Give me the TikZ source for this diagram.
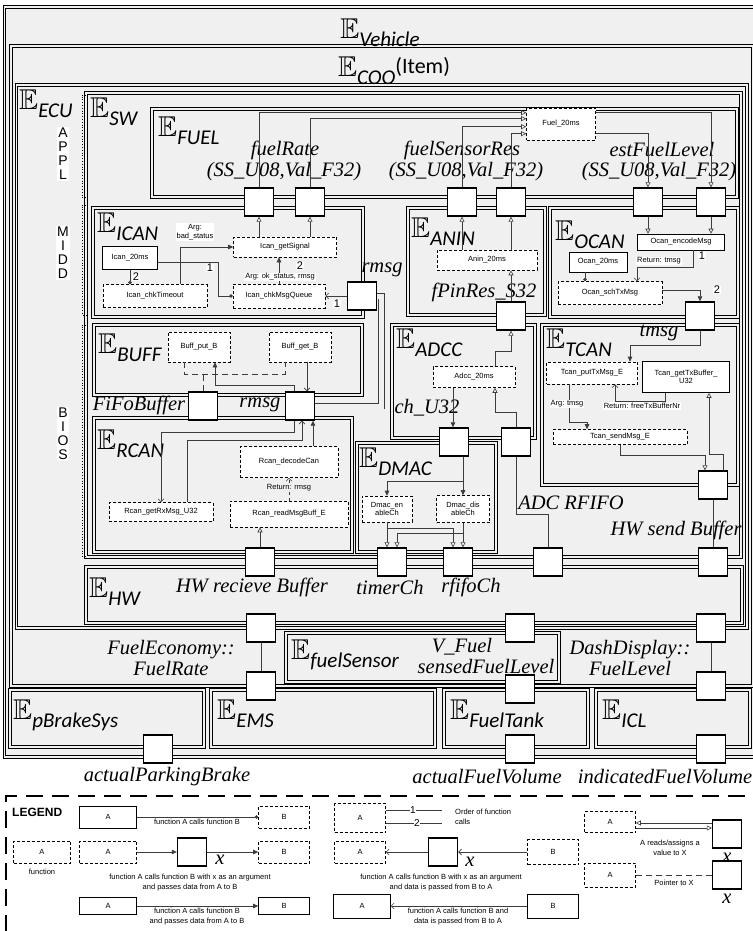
\documentclass[tikz,border=0pt]{standalone}
\usepackage{fontspec}
\usepackage{amssymb}
\usepackage{graphicx}
\setmainfont{Liberation Serif}
\setsansfont{Liberation Sans}
\newfontfamily\subsans{Carlito}
\usetikzlibrary{positioning,arrows.meta,fit}

\definecolor{boxgray}{RGB}{240,240,240}
\definecolor{linegray}{RGB}{60,60,60}

\newcommand{\bbE}{\scalebox{1.15}{\fontsize{24.88}{25}\selectfont$\mathbb{E}$}}
\newcommand{\entsub}[1]{\raisebox{-8pt}{\fontsize{21}{21}\selectfont\subsans\itshape #1}}
\newcommand{\ent}[1]{\bbE\entsub{#1}}
\newcommand{\fnfont}{\fontsize{7.5}{8.5}\selectfont\sffamily}
\newcommand{\legfont}{\fontsize{7.5}{10}\selectfont\sffamily}
\newcommand{\lblfont}{\fontsize{20.5}{21}\selectfont\itshape}
\newcommand{\numfont}{\fontsize{11}{11}\selectfont\sffamily}
\newcommand{\sidefont}{\fontsize{14}{14}\selectfont\sffamily}

\begin{document}
\begin{tikzpicture}[x=1pt, y=-1pt,
    ent/.style={draw, fill=boxgray, line width=0.9pt, double=boxgray, double distance=1.3pt, inner sep=0pt},
    entlbl/.style={anchor=north west, inner sep=0pt},
    fn/.style={draw, dashed, dash pattern=on 3pt off 2pt, fill=white, line width=0.6pt, font=\fnfont, align=center, inner sep=1pt},
    fnsolid/.style={fn, solid},
    port/.style={draw, fill=white, line width=1.4pt, minimum width=29pt, minimum height=28pt, inner sep=0pt},
    ilabel/.style={font=\lblfont, inner sep=0pt, align=center},
    note/.style={font=\fnfont, fill=white, inner sep=1pt, align=center},
    num/.style={font=\numfont, fill=white, inner sep=0.5pt},
    side/.style={font=\sidefont, fill=white, inner sep=1pt, align=center},
    legtext/.style={font=\legfont, inner sep=0pt, align=center},
    xlbl/.style={font=\lblfont, inner sep=0pt},
    legbox/.style={draw, line width=2.4pt, dash pattern=on 17pt off 9pt, inner sep=0pt},
    conn/.style={draw=linegray, line width=0.6pt},
    call/.style={conn, -{Circle[length=3.5pt]}},
    callarg/.style={conn, -{Triangle[length=5pt,width=4.5pt]}},
    ret/.style={conn, -{Straight Barb[length=3pt,width=6pt]}},
    rw/.style={conn, -{Triangle[open,length=5pt,width=5pt]}},
    ptr/.style={conn, dash pattern=on 6pt off 4pt},
    pipe/.style={draw=linegray, line width=0.8pt, double=boxgray, double distance=5pt},
  ]
  \useasboundingbox (0,0) rectangle (752,931);

  % nested entities
  \node[ent, fit={(4.5,7) (758,757)}] (vehicle) {};
  \node[ent, fit={(11,46) (753,686)}] (coo) {};
  \node[ent, fit={(16.5,85) (747,628)}] (ecu) {};
  \node[ent, fit={(86,93) (741,557)}] (sw) {};
  \node[ent, fit={(152,109) (737,197)}] (fuel) {};
  \node[ent, fit={(93,208) (363,317)}] (ican) {};
  \node[ent, fit={(408,208) (545,315)}] (anin) {};
  \node[ent, fit={(550,208) (738,317)}] (ocan) {};
  \node[ent, fit={(94,325) (362,395)}] (buff) {};
  \node[ent, fit={(94,418) (352,552)}] (rcan) {};
  \node[ent, fit={(392,325) (535,438)}] (adcc) {};
  \node[ent, fit={(357,443) (496,552)}] (dmac) {};
  \node[ent, fit={(542,325) (738,485)}] (tcan) {};
  \node[ent, fit={(86,567) (742,623)}] (hw) {};
  \node[ent, fit={(286,633) (559,682)}] (fuelsensor) {};
  \node[ent, fit={(10,690) (204,747)}] (pbrake) {};
  \node[ent, fit={(211,690) (435,747)}] (ems) {};
  \node[ent, fit={(444,690) (588,747)}] (fueltank) {};
  \node[ent, fit={(596,690) (750,747)}] (icl) {};

  % entity names
  \node[entlbl, anchor=north] (vehiclelbl) at (380,19) {\ent{Vehicle}};
  \node[entlbl, anchor=north] (coolbl) at (394,57) {\ent{COO}\raisebox{3pt}{\fontsize{22}{22}\selectfont\subsans (Item)}};
  \node[entlbl] (eculbl) at (19,90) {\ent{ECU}};
  \node[entlbl] (swlbl) at (90,98) {\ent{SW}};
  \node[entlbl] (fuellbl) at (158,117) {\ent{FUEL}};
  \node[entlbl] (icanlbl) at (97,213) {\ent{ICAN}};
  \node[entlbl] (aninlbl) at (411,218) {\ent{ANIN}};
  \node[entlbl] (ocanlbl) at (555,221) {\ent{OCAN}};
  \node[entlbl] (bufflbl) at (98,334) {\ent{BUFF}};
  \node[entlbl] (rcanlbl) at (97,430) {\ent{RCAN}};
  \node[entlbl] (adcclbl) at (396,329) {\ent{ADCC}};
  \node[entlbl] (dmaclbl) at (359,448) {\ent{DMAC}};
  \node[entlbl] (tcanlbl) at (546,329) {\ent{TCAN}};
  \node[entlbl] (hwlbl) at (89,578) {\ent{HW}};
  \node[entlbl] (fuelsensorlbl) at (291,640) {\ent{fuelSensor}};
  \node[entlbl] (pbrakelbl) at (13,700) {\ent{pBrakeSys}};
  \node[entlbl] (emslbl) at (217,700) {\ent{EMS}};
  \node[entlbl] (fueltanklbl) at (450,700) {\ent{FuelTank}};
  \node[entlbl] (icllbl) at (602,700) {\ent{ICL}};

  % software layers
  \node[side] (appl) at (63,154) {A\\P\\P\\L};
  \node[side] (midd) at (63,253) {M\\I\\D\\D};
  \node[side] (bios) at (63,434) {B\\I\\O\\S};
  \draw[dotted, line width=0.8pt] (86,95) -- (82,95) -- (82,197) -- (86,197);
  \draw[dotted, line width=0.8pt] (86,205) -- (82,205) -- (82,315) -- (86,315);
  \draw[dotted, line width=0.8pt] (86,325) -- (82,325) -- (82,556) -- (86,556);

  % signal names
  \node[ilabel] (fuelratelbl) at (285,150) {fuelRate};
  \node[ilabel] (fuelrateval) at (284,172) {(SS\_U08,Val\_F32)};
  \node[ilabel] (sensorreslbl) at (462,150) {fuelSensorRes};
  \node[ilabel] (sensorresval) at (466,172) {(SS\_U08,Val\_F32)};
  \node[ilabel] (estlevellbl) at (662,150) {estFuelLevel};
  \node[ilabel] (estlevelval) at (659,172) {(SS\_U08,Val\_F32)};
  \node[ilabel] (icanrmsglbl) at (382,270) {rmsg};
  \node[ilabel] (fpinlbl) at (484,292) {fPinRes\_S32};
  \node[ilabel] (fifolbl) at (139,405) {FiFoBuffer};
  \node[ilabel] (buffrmsglbl) at (260,405) {rmsg};
  \node[ilabel] (chlbl) at (427,408) {ch\_U32};
  \node[ilabel] (tmsglbl) at (659,333) {tmsg};
  \node[ilabel] (adclbl) at (571,503) {ADC RFIFO};
  \node[ilabel] (hwsendlbl) at (676,530) {HW send Buffer};
  \node[ilabel] (hwrecvlbl) at (252,587) {HW recieve Buffer};
  \node[ilabel] (timerlbl) at (390,587) {timerCh};
  \node[ilabel] (rfifolbl) at (471,587) {rfifoCh};
  \node[ilabel] (econlbl) at (171,658) {FuelEconomy::\\FuelRate};
  \node[ilabel] (vfuellbl) at (462,647) {V\_Fuel};
  \node[ilabel] (sensedlbl) at (486,667) {sensedFuelLevel};
  \node[ilabel] (dashlbl) at (630,658) {DashDisplay::\\FuelLevel};
  \node[ilabel] (parklbl) at (167,777) {actualParkingBrake};
  \node[ilabel] (fvollbl) at (487,777) {actualFuelVolume};
  \node[ilabel] (indiclbl) at (665,777) {indicatedFuelVolume};

  % functions
  \node[fn, minimum width=69, minimum height=32] (fuel20) at (561,124) {Fuel\_20ms};
  \node[fn, minimum width=103, minimum height=20] (icanget) at (285,247) {Ican\_getSignal};
  \node[fnsolid, minimum width=55, minimum height=23] (ican20) at (130,258) {Ican\_20ms};
  \node[fn, minimum width=104, minimum height=23] (icanto) at (155,296) {Ican\_chkTimeout};
  \node[fn, minimum width=92, minimum height=24] (icanq) at (279,296) {Ican\_chkMsgQueue};
  \node[fn, minimum width=100, minimum height=20] (anin20) at (487,260) {Anin\_20ms};
  \node[fnsolid, minimum width=87, minimum height=16] (ocanenc) at (681,242) {Ocan\_encodeMsg};
  \node[fnsolid, minimum width=58, minimum height=20] (ocan20) at (598,262) {Ocan\_20ms};
  \node[fn, minimum width=104, minimum height=23] (ocansch) at (610,293) {Ocan\_schTxMsg};
  \node[fn, minimum width=62, minimum height=30] (buffput) at (199,347) {Buff\_put\_B};
  \node[fn, minimum width=62, minimum height=30] (buffget) at (300,347) {Buff\_get\_B};
  \node[fn, minimum width=98, minimum height=31] (rcandec) at (289,462) {Rcan\_decodeCan};
  \node[fn, minimum width=104, minimum height=19] (rcanget) at (161,512) {Rcan\_getRxMsg\_U32};
  \node[fn, minimum width=118, minimum height=26] (rcanread) at (289,514) {Rcan\_readMsgBuff\_E};
  \node[fn, minimum width=82, minimum height=21] (adcc20) at (474,377) {Adcc\_20ms};
  \node[fn, minimum width=50, minimum height=26] (dmacen) at (387,509) {Dmac\_en\\ableCh};
  \node[fn, minimum width=53, minimum height=27] (dmacdis) at (463,509) {Dmac\_dis\\ableCh};
  \node[fn, minimum width=91, minimum height=22] (tcanput) at (592,373) {Tcan\_putTxMsg\_E};
  \node[fnsolid, minimum width=87, minimum height=31] (tcangetb) at (686,377) {Tcan\_getTxBuffer\_\\U32};
  \node[fn, minimum width=134, minimum height=15] (tcansend) at (620,437) {Tcan\_sendMsg\_E};

  % ports
  \node[port] (pfr1) at (259,202) {};
  \node[port] (pfr2) at (310,202) {};
  \node[port] (psr1) at (462,202) {};
  \node[port] (psr2) at (511,202) {};
  \node[port] (pel1) at (648,202) {};
  \node[port] (pel2) at (711,202) {};
  \node[port] (picanrmsg) at (362,296) {};
  \node[port] (pfpin) at (511,316) {};
  \node[port] (ptmsg) at (700,316) {};
  \node[port] (pfifo) at (203,406) {};
  \node[port] (pbuffrmsg) at (300,406) {};
  \node[port] (pch) at (454,442) {};
  \node[port] (padc) at (516,442) {};
  \node[port] (phwsend) at (713,485) {};
  \node[port] (phwrecv) at (260,562) {};
  \node[port] (ptimer) at (392,562) {};
  \node[port] (prfifo) at (458,562) {};
  \node[port] (padcbot) at (548,562) {};
  \node[port] (phwsendbot) at (713,562) {};
  \node[port] (pfuelrate) at (261,628) {};
  \node[port] (pvfuel) at (520,628) {};
  \node[port] (pfuellevel) at (711,628) {};
  \node[port] (pems) at (261,686) {};
  \node[port] (pfueltank) at (520,689) {};
  \node[port] (picl) at (711,686) {};
  \node[port] (ppark) at (158,749) {};
  \node[port] (pfuelvol) at (520,749) {};
  \node[port] (pindic) at (711,749) {};

  % FUEL
  \draw[rw] (pfr1.north) |- ([yshift=-5pt]fuel20.north west);
  \draw[rw] (pfr2.north) |- ([yshift=-11pt]fuel20.north west);
  \draw[rw] (psr1.north) |- ([yshift=-19pt]fuel20.north west);
  \draw[rw] (psr2.north) |- ([yshift=-26pt]fuel20.north west);
  \draw[rw] ([yshift=-5pt]fuel20.north east) -| (pel2.north);
  \draw[rw] ([yshift=-26pt]fuel20.north east) -| (pel1.north);

  % ICAN
  \draw[rw] (icanget.north -| pfr1.south) -- (pfr1.south);
  \draw[rw] (icanget.north -| pfr2.south) -- (pfr2.south);
  \draw[call] (ican20.south) -- (icanto.north -| ican20.south);
  \draw[call] ([yshift=-4pt]ican20.east) -- ++(60,0) |- (icanq.west);
  \draw[callarg] ([xshift=25pt]icanto.north) |- (icanget.west);
  \draw[callarg] (icanq.north) -- (icanq.north |- icanget.south);
  \draw[ret] (picanrmsg.west) -- (icanq.east);
  \draw[pipe] (picanrmsg.east) -- ++(4,0) |- (pbuffrmsg.east);

  % ANIN
  \draw[rw] (anin20.north -| psr1.south) -- (psr1.south);
  \draw[rw] (anin20.north -| psr2.south) -- (psr2.south);
  \draw[rw] (pfpin.north) -- (pfpin.north |- anin20.south);

  % OCAN
  \draw[rw] (pel1.south) -- (pel1.south |- ocanenc.north);
  \draw[rw] (pel2.south) -- (pel2.south |- ocanenc.north);
  \draw[call] ([xshift=-13pt]ocan20.south) -- ([xshift=-25pt]ocansch.north);
  \draw[ret] ([xshift=12pt]ocanenc.south) -- ++(0,17) -| ([xshift=27pt]ocansch.north);
  \draw[callarg] ([yshift=3pt]ocansch.east) -| (ptmsg.north);

  % BUFF
  \draw[ptr] ([xshift=-15pt]buffput.south) -- ++(0,12) -| ([xshift=-15pt]buffget.south);
  \draw[ptr] (pfifo.north) -- ++(0,-17);
  \draw[callarg] ([xshift=-6pt]pbuffrmsg.north) -- ++(0,-6) -| ([xshift=16pt]buffput.south);
  \draw[ret] ([xshift=7pt]buffget.south) -- ([xshift=7pt]pbuffrmsg.north);

  % RCAN
  \draw[ret, dashed] (rcanread.north) -- (rcandec.south);
  \draw[callarg] ([xshift=24pt]rcandec.north) -- ([xshift=13pt]pbuffrmsg.south);
  \draw[ret] ([xshift=26pt]rcanget.north) -- ++(0,-62) -| ([xshift=2pt]pbuffrmsg.south);
  \draw[ret] ([xshift=-6pt]pbuffrmsg.south) -- ++(0,12) -| (rcanget.north);
  \draw[rw] (phwrecv.north) -- (phwrecv.north |- rcanread.south);

  % ADCC and DMAC
  \draw[rw] ([xshift=21pt]adcc20.north) -- ++(0,-15) -| (pfpin.south);
  \draw[callarg] ([xshift=-21pt]adcc20.south) -- ([xshift=-1pt]pch.north);
  \draw[rw] (padc.north) -- ++(0,-15) -| ([xshift=21pt]adcc20.south);
  \draw[conn] (padc.south) -- ++(0,58) -| (padcbot.north);
  \draw[callarg] ([xshift=9pt]pch.south) -- (dmacdis.north);
  \draw[callarg] ([xshift=9pt]pch.south) -- ++(0,25) -| (dmacen.north);
  \draw[rw] (dmacen.south) -- ([xshift=-5pt]ptimer.north);
  \draw[rw] (dmacen.south) -- ++(0,6) -| ([xshift=-5pt]prfifo.north);
  \draw[rw] (dmacdis.south) -- ([xshift=5pt]prfifo.north);
  \draw[rw] (dmacdis.south) -- ++(0,10) -| ([xshift=5pt]ptimer.north);

  % TCAN
  \draw[callarg] (ptmsg.south) -- ++(0,15) -| ([xshift=38pt]tcanput.north);
  \draw[ret] ([xshift=-21pt]tcangetb.south) -- ++(0,8) -| ([xshift=23pt]tcanput.south);
  \draw[callarg] ([xshift=-23pt]tcanput.south) -- ++(0,38) -| ([xshift=-33pt]tcansend.north);
  \draw[rw] (tcansend.south) -- ++(0,10) -| ([xshift=-8pt]phwsend.north);
  \draw[rw] ([xshift=10pt]phwsend.north) -- ++(0,-16) -| ([xshift=23pt]tcangetb.south);
  \draw[conn] (phwsend.south) -- (phwsendbot.north);

  % outside the ECU
  \draw[conn] (pfuelrate.south) -- (pems.north);
  \draw[conn] (pfuellevel.south) -- (picl.north);

  % call order, arguments, returns
  \node[note] (argbad) at (195,232) {Arg:\\bad\_status};
  \node[num] (n2a) at (136,277) {2};
  \node[num] (n1a) at (210,268) {1};
  \node[num] (n2b) at (300,266) {2};
  \node[note] (argok) at (280,277) {Arg: ok\_status, rmsg};
  \node[num] (n1b) at (337,304) {1};
  \node[note] (rettmsg) at (659,261) {Return: tmsg};
  \node[num] (n1c) at (702,256) {1};
  \node[num] (n2c) at (717,290) {2};
  \node[note, fill=boxgray] (retrmsg) at (289,488) {Return: rmsg};
  \node[note] (argtmsg) at (567,404) {Arg: tmsg};
  \node[note] (retfree) at (642,406) {Return: freeTxBufferNr};

  % legend
  \node[legbox, fit={(6,796) (762,933)}] (legend) {};
  \node[anchor=west, inner sep=0pt, font=\fontsize{12}{12}\selectfont\sffamily\bfseries] (legendlbl) at (12,812) {LEGEND};

  \node[fnsolid, minimum width=57, minimum height=22] (la1) at (108,817) {A};
  \node[fn, minimum width=51, minimum height=22] (lb1) at (284,817) {B};
  \draw[call] (la1.east) -- (lb1.west);
  \node[legtext, anchor=north] (lt1) at (197,819) {function A calls function B};

  \node[fn, minimum width=57, minimum height=22] (lfn) at (42,852) {A};
  \node[legtext] (lfnt) at (42,872) {function};
  \node[fn, minimum width=57, minimum height=22] (la2) at (108,852) {A};
  \node[port] (lx1) at (192,852) {};
  \node[fn, minimum width=51, minimum height=22] (lb2) at (284,852) {B};
  \draw[callarg] (la2.east) -- (lx1.west);
  \draw[callarg] (lx1.east) -- (lb2.west);
  \node[xlbl] (lx1lbl) at (220,860) {x};
  \node[legtext] (lt2) at (190,883) {function A calls function B with x as an argument\\and passes data from A to B};

  \node[fnsolid, minimum width=57, minimum height=17] (la3) at (108,906) {A};
  \node[fnsolid, minimum width=51, minimum height=17] (lb3) at (284,906) {B};
  \draw[callarg] (la3.east) -- (lb3.west);
  \node[legtext, anchor=north] (lt3) at (197,908) {function A calls function B\\and passes data from A to B};

  \node[fn, minimum width=51, minimum height=29] (la4) at (360,818) {A};
  \coordinate (ord1) at (442,810);
  \coordinate (ord2) at (442,823);
  \draw[conn] ([yshift=8pt]la4.east) -- (ord1);
  \draw[conn] ([yshift=-5pt]la4.east) -- (ord2);
  \node[num, font=\fontsize{10}{10}\selectfont\sffamily] (lo1) at (413,810) {1};
  \node[num, font=\fontsize{10}{10}\selectfont\sffamily] (lo2) at (417,823) {2};
  \node[legtext, anchor=west, align=left] (lt4) at (455,817) {Order of function\\calls};

  \node[fn, minimum width=51, minimum height=22] (la5) at (360,852) {A};
  \node[port] (lx2) at (443,852) {};
  \node[fn, minimum width=51, minimum height=25] (lb5) at (553,852) {B};
  \draw[ret] (lb5.west) -- (lx2.east);
  \draw[ret] (lx2.west) -- (la5.east);
  \node[xlbl] (lx2lbl) at (470,862) {x};
  \node[legtext] (lt5) at (441,883) {function A calls function B with x as an argument\\and data is passed from B to A};

  \node[fnsolid, minimum width=57, minimum height=24] (la6) at (362,906) {A};
  \node[fnsolid, minimum width=51, minimum height=24] (lb6) at (553,906) {B};
  \draw[ret] (lb6.west) -- (la6.east);
  \node[legtext, anchor=north] (lt6) at (458,908) {function A calls function B and\\data is passed from B to A};

  \node[fn, minimum width=51, minimum height=21] (la7) at (610,822) {A};
  \node[port] (lx3) at (727,834) {};
  \draw[rw] ([yshift=11pt]lx3.west) -- ([yshift=-1pt]la7.east);
  \draw[rw] ([yshift=-6pt]la7.east) -- ([yshift=6pt]lx3.west);
  \node[legtext] (lt7) at (670,848) {A reads/assigns a\\value to X};
  \node[xlbl] (lx3lbl) at (727,858) {x};

  \node[fn, minimum width=51, minimum height=24] (la8) at (610,875) {A};
  \node[port] (lx4) at (727,875) {};
  \draw[ptr] (la8.east) -- (lx4.west);
  \node[legtext, anchor=north] (lt8) at (674,880) {Pointer to X};
  \node[xlbl] (lx4lbl) at (727,899) {x};
\end{tikzpicture}
\end{document}
